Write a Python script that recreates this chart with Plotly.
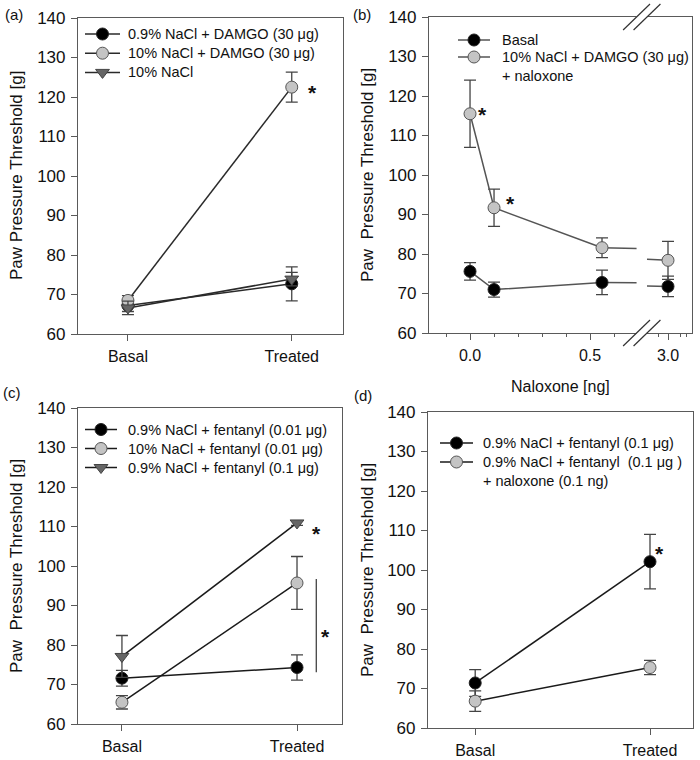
import plotly.graph_objects as go

# ---- data ----
groups = ["Basal", "Treated"]

# (a)
a_labels = ["0.9% NaCl + DAMGO (30 μg)", "10% NaCl + DAMGO (30 μg)", "10% NaCl"]
a_means = [[67.2, 72.7], [68.5, 122.5], [66.6, 73.9]]
a_errs = [[1.5, 4.3], [1.2, 3.8], [1.7, 1.7]]

# (b)
naloxone_ng = [0.0, 0.1, 0.55, 3.0]
b_labels = ["Basal", "10% NaCl + DAMGO (30 μg)<br>+ naloxone"]
b_means = [[75.6, 71.0, 72.8, 71.8], [115.5, 91.7, 81.6, 78.4]]
b_errs = [[2.2, 1.9, 3.1, 2.6], [8.5, 4.7, 2.5, 4.8]]

# (c)
c_labels = ["0.9% NaCl + fentanyl (0.01 μg)", "10% NaCl + fentanyl (0.01 μg)",
            "0.9% NaCl + fentanyl (0.1 μg)"]
c_means = [[71.6, 74.3], [65.5, 95.7], [77.1, 110.9]]
c_errs = [[2.0, 3.2], [1.7, 6.7], [5.3, 0.6]]

# (d)
d_labels = ["0.9% NaCl + fentanyl (0.1 μg)",
            "0.9% NaCl + fentanyl  (0.1 μg )<br>+ naloxone (0.1 ng)"]
d_means = [[71.4, 102.1], [66.8, 75.3]]
d_errs = [[3.4, 6.9], [2.6, 1.8]]

FONT = "Liberation Sans, Arial, sans-serif"
AXIS_COL = "#5a5a5a"
ERR_COL = "#444444"
W, H = 700, 760

BLACK = dict(symbol="circle", color="#000000", line=dict(color="#222222", width=1))
GREY = dict(symbol="circle", color="#c4c4c4", line=dict(color="#555555", width=1))
TRI = dict(symbol="triangle-down", color="#666666", line=dict(color="#444444", width=1))

fig = go.Figure()


def add_series(x, y, err, name, marker, xa, ya, line_col="#2a2a2a"):
    fig.add_trace(go.Scatter(
        x=x, y=y, name=name, mode="lines+markers",
        line=dict(color=line_col, width=1.5),
        marker=dict(size=12, **marker),
        error_y=dict(type="data", array=err, color=ERR_COL, thickness=1.3, width=6),
        xaxis=xa, yaxis=ya, showlegend=False,
    ))


# (a)
for lab, m, e, mk in zip(a_labels, a_means, a_errs, [BLACK, GREY, TRI]):
    add_series(groups, m, e, lab, mk, "x", "y")

# (b) with broken x axis: 3.0 ng is drawn at display position X_30
X_30 = 0.825
BRK_L, BRK_R = 0.694, 0.7375
b_disp = [v if v < 1 else X_30 for v in naloxone_ng]
for lab, m, e, mk in zip(b_labels, b_means, b_errs, [BLACK, GREY]):
    y_left = m[2] + (m[3] - m[2]) * (BRK_L - naloxone_ng[2]) / (naloxone_ng[3] - naloxone_ng[2])
    y_right = m[3] + (m[2] - m[3]) * 0.086
    fig.add_trace(go.Scatter(
        x=[b_disp[2], BRK_L, None, BRK_R, b_disp[3]],
        y=[m[2], y_left, None, y_right, m[3]],
        mode="lines", line=dict(color="#555555", width=1.5),
        xaxis="x2", yaxis="y2", showlegend=False, hoverinfo="skip",
    ))
    add_series(b_disp[:3], m[:3], e[:3], lab, mk, "x2", "y2", line_col="#555555")
    fig.add_trace(go.Scatter(
        x=[b_disp[3]], y=[m[3]], mode="markers", name=lab,
        marker=dict(size=12, **mk),
        error_y=dict(type="data", array=[e[3]], color=ERR_COL, thickness=1.3, width=6),
        xaxis="x2", yaxis="y2", showlegend=False,
    ))

# (c)
for lab, m, e, mk in zip(c_labels, c_means, c_errs, [BLACK, GREY, TRI]):
    add_series(groups, m, e, lab, mk, "x3", "y3", line_col="#1a1a1a")

# (d)
for lab, m, e, mk in zip(d_labels, d_means, d_errs, [BLACK, GREY]):
    add_series(groups, m, e, lab, mk, "x4", "y4", line_col="#1a1a1a")


# legends drawn by hand on a full-page pixel overlay (x5/y5), so row spacing matches
# (line x0, line x1, text x, first row y, row step, line colour)
legend_specs = [
    (a_labels, [BLACK, GREY, TRI], 85, 120, 126, 34, 19.2, "#2a2a2a"),
    (b_labels, [BLACK, GREY], 458, 490, 500, 40, 17, "#555555"),
    (c_labels, [BLACK, GREY, TRI], 85, 117, 126, 429.5, 19, "#1a1a1a"),
    (d_labels, [BLACK, GREY], 440, 473, 481, 443, 19, "#1a1a1a"),
]
for labels, marks, lx0, lx1, tx, ry, dy, lc in legend_specs:
    for i, (lab, mk) in enumerate(zip(labels, marks)):
        yy = ry + i * dy
        fig.add_trace(go.Scatter(x=[lx0, lx1], y=[yy, yy], mode="lines",
                                 line=dict(color=lc, width=1.5), xaxis="x5", yaxis="y5",
                                 showlegend=False, hoverinfo="skip"))
        fig.add_trace(go.Scatter(x=[(lx0 + lx1) / 2], y=[yy], mode="markers",
                                 marker=dict(size=12, **mk), xaxis="x5", yaxis="y5",
                                 showlegend=False, hoverinfo="skip"))
        fig.add_annotation(text=lab, x=tx, y=yy - 10, xref="x5", yref="y5",
                           xanchor="left", yanchor="top", align="left", showarrow=False,
                           font=dict(size=14.5, color="#111"))


def dom(p0, p1, size, flip=False):
    if flip:
        return [1 - p1 / size, 1 - p0 / size]
    return [p0 / size, p1 / size]


ax_common = dict(showline=True, linecolor=AXIS_COL, linewidth=1.2, mirror=True,
                 showgrid=False, zeroline=False, ticks="outside", ticklen=6,
                 tickcolor=AXIS_COL, tickfont=dict(size=17, color="#111"))
y_common = dict(ax_common, range=[60, 140], dtick=10, tick0=60, ticklabelstandoff=2)
x_cat = dict(ax_common, type="category", tickfont=dict(size=16, color="#111"),
             ticklabelstandoff=2)

fig.update_layout(
    width=W, height=H, margin=dict(l=0, r=0, t=0, b=0, pad=0, autoexpand=False),
    paper_bgcolor="white", plot_bgcolor="rgba(0,0,0,0)",
    font=dict(family=FONT, color="#111"), showlegend=False,
    xaxis=dict(x_cat, domain=dom(78, 343, W), range=[-0.305, 1.313], anchor="y"),
    yaxis=dict(y_common, domain=dom(18, 334, H, True), anchor="x"),
    xaxis2=dict(ax_common, domain=dom(429, 692, W), range=[-0.171, 0.925], anchor="y2",
                tickvals=[0.0, 0.5, X_30], ticktext=["0.0", "0.5", "3.0"],
                tickfont=dict(size=16, color="#111"), ticklabelstandoff=2,
                minor=dict(tickvals=[-0.1, 0.1, 0.2, 0.3, 0.4, 0.6, 0.786, 0.878, 0.9],
                           ticklen=3, tickcolor=AXIS_COL, ticks="outside")),
    yaxis2=dict(y_common, domain=dom(17, 333, H, True), anchor="x2"),
    xaxis3=dict(x_cat, domain=dom(78, 342, W), range=[-0.251, 1.257], anchor="y3"),
    yaxis3=dict(y_common, domain=dom(408, 724, H, True), anchor="x3"),
    xaxis4=dict(x_cat, domain=dom(428, 693, W), range=[-0.27, 1.246], anchor="y4"),
    yaxis4=dict(y_common, domain=dom(412, 728, H, True), anchor="x4"),
    xaxis5=dict(domain=[0, 1], range=[0, W], visible=False, fixedrange=True, anchor="y5"),
    yaxis5=dict(domain=[0, 1], range=[H, 0], visible=False, fixedrange=True, anchor="x5"),
)

# axis titles and panel labels, placed in page pixels
ytitles = [("Paw Pressure Threshold [g]", 16, 176), ("Paw  Pressure Threshold [g]", 367, 175),
           ("Paw  Pressure Threshold [g]", 16, 566), ("Paw  Pressure Threshold [g]", 367, 570)]
for txt, px, py in ytitles:
    fig.add_annotation(text=txt, x=px, y=py, xref="x5", yref="y5",
                       textangle=-90, showarrow=False, font=dict(size=17, color="#111"),
                       xanchor="center", yanchor="middle")
fig.add_annotation(text="Naloxone [ng]", x=560, y=386, xref="x5", yref="y5",
                   showarrow=False, font=dict(size=16, color="#111"),
                   xanchor="center", yanchor="middle")
for txt, px, py in [("(a)", 14, 14), ("(b)", 362, 14), ("(c)", 12, 392), ("(d)", 363, 395)]:
    fig.add_annotation(text=txt, x=px, y=py, xref="x5", yref="y5", showarrow=False,
                       xanchor="center", yanchor="middle", font=dict(size=15, color="#111"))

# significance stars
stars = [("x", "y", 1.124, 122.3), ("x2", "y2", 0.053, 116.5), ("x2", "y2", 0.167, 94.1),
         ("x3", "y3", 1.114, 109.6), ("x3", "y3", 1.162, 83.5), ("x4", "y4", 1.057, 105.4)]
for xa, ya, sx, sy in stars:
    fig.add_annotation(text="<b>*</b>", x=sx, y=sy, xref=xa, yref=ya, showarrow=False,
                       xanchor="center", yanchor="middle",
                       font=dict(size=21, color="#111"), yshift=-5)

# bracket in (c)
fig.add_shape(type="line", xref="x3", yref="y3", x0=1.110, x1=1.110, y0=73.1, y1=96.7,
              line=dict(color="#333", width=1.2))

# axis break marks in (b)
for yd in (0, 1):
    fig.add_shape(type="rect", xref="x2", yref="y2 domain", x0=BRK_L, x1=BRK_R,
                  y0=yd - 0.012, y1=yd + 0.012, fillcolor="white", line=dict(width=0),
                  layer="above")
    for xc in (BRK_L, BRK_R):
        fig.add_shape(type="line", xref="x2", yref="y2 domain", x0=xc - 0.056, x1=xc + 0.056,
                      y0=yd - 0.041, y1=yd + 0.041, line=dict(color="#333", width=1.2),
                      layer="above")

# the page's default body margin would push the 700x760 figure out of the window
fig.write_html("out.html", config={"displayModeBar": False},
               post_script="document.body.style.margin='0';")
